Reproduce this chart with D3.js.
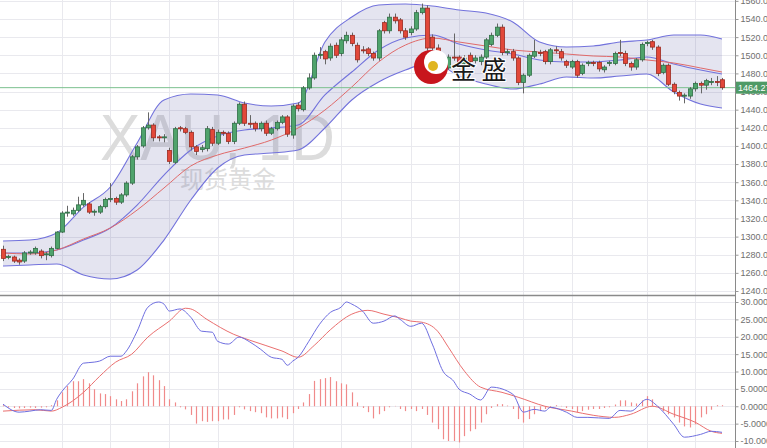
<!DOCTYPE html>
<html><head><meta charset="utf-8">
<script src="https://cdn.jsdelivr.net/npm/d3@7"></script>
<style>html,body{margin:0;padding:0;background:#fff;overflow:hidden}svg{display:block}</style>
</head><body>
<svg id="c" width="767" height="448"></svg>
<script>
// ---- Candle data (daily XAU) ----
const opens  = [1286,1277,1277.5,1274,1273,1282,1282,1284,1280,1279,1287,1305,1326,1325,1329,1335,1336,1327,1327,1333,1341,1342,1338,1346,1359,1388,1400,1420,1423,1410,1409,1395,1382,1420,1419,1415,1399,1396,1397,1418,1403,1415,1414,1405,1425,1446,1425,1425,1419,1425,1414,1419,1426,1432,1412,1445,1440,1464,1475,1500,1504,1497,1511,1502,1516,1522,1511,1506,1507,1502,1497,1536,1527,1542,1539,1527,1525,1529,1547,1552,1520,1508,1498,1486,1498,1498,1491,1500,1494,1493,1498,1512,1522,1531,1503,1504,1497,1470,1478,1499,1503,1504,1493,1506,1504,1493,1487,1493,1480,1491,1492,1492,1484,1491,1491,1503,1502,1491,1487,1495,1513,1515,1509,1481,1489,1468,1459,1455,1455,1463,1469,1467,1470,1471,1473];
const closes = [1276,1278,1273,1272,1282,1283,1287,1279,1281,1287,1305,1326,1327,1329,1335,1340,1327,1328,1333,1341,1342,1338,1346,1359,1388,1399,1420,1423,1409,1409,1410,1383,1419,1419,1415,1399,1394,1398,1419,1403,1415,1414,1405,1425,1446,1425,1424,1419,1425,1414,1419,1426,1432,1413,1444,1441,1464,1475,1500,1501,1496,1510,1500,1517,1522,1513,1495,1505,1502,1497,1527,1527,1542,1538,1527,1520,1529,1547,1552,1508,1508,1498,1486,1498,1497,1491,1497,1493,1497,1498,1517,1522,1531,1503,1504,1497,1470,1478,1500,1504,1502,1493,1506,1505,1497,1489,1493,1478,1489,1492,1491,1485,1487,1492,1502,1502,1491,1487,1495,1512,1514,1509,1480,1489,1468,1460,1455,1456,1463,1469,1467,1472,1471,1470,1464.27];
const highs  = [1290,1280,1279,1276,1284,1285,1289,1286,1283,1289,1306,1328,1334,1332,1344,1348,1338,1330,1335,1343,1359,1344,1348,1361,1390,1401,1422,1437,1425,1412,1413,1398,1421,1422,1421,1417,1401,1401,1422,1421,1418,1417,1416,1427,1448,1449,1434,1427,1427,1428,1421,1428,1434,1434,1446,1448,1466,1480,1503,1509,1506,1513,1514,1520,1526,1525,1514,1510,1509,1504,1529,1538,1546,1546,1541,1530,1532,1550,1557,1555,1523,1512,1500,1501,1524,1500,1500,1503,1500,1501,1519,1525,1535,1534,1507,1507,1499,1480,1502,1517,1506,1506,1508,1510,1507,1495,1495,1495,1491,1494,1494,1494,1489,1494,1504,1517,1505,1493,1497,1514,1516,1517,1511,1491,1491,1470,1461,1458,1465,1471,1471,1474,1475,1477,1475];
const lows   = [1273,1275,1271,1269,1271,1280,1280,1276,1274,1277,1286,1304,1322,1323,1327,1333,1325,1323,1325,1331,1338,1335,1336,1344,1357,1385,1398,1418,1405,1405,1404,1380,1380,1416,1413,1395,1390,1393,1394,1400,1401,1411,1402,1402,1423,1422,1420,1416,1416,1411,1412,1417,1424,1410,1408,1438,1438,1462,1473,1496,1490,1494,1497,1499,1513,1510,1492,1502,1499,1494,1494,1524,1524,1535,1524,1517,1522,1527,1545,1505,1504,1494,1483,1484,1494,1488,1488,1490,1491,1489,1496,1510,1520,1500,1500,1494,1467,1458,1476,1497,1499,1490,1490,1502,1494,1486,1485,1475,1478,1488,1488,1482,1481,1488,1489,1499,1488,1483,1484,1493,1510,1506,1477,1479,1466,1457,1450,1447,1452,1460,1458,1462,1467,1466,1462];
const lastPrice = 1464.27;

// ---- Bollinger band / moving average readings (candle index -> price) ----
const bandIdx   = [1,6,11,16,21,26,31,36,41,46,51,56,61,66,71,76,81,86,91,96,101,106,111,116,121,126,131,135];
const bandUpper = [1295.1,1296.2,1304.0,1332.6,1354.7,1403.2,1450.7,1457.3,1456.2,1447.3,1444.0,1447.3,1514.6,1542.2,1555.4,1556.5,1554.3,1549.9,1546.6,1536.7,1514.6,1509.1,1510.2,1514.6,1516.8,1522.3,1522.3,1517.9];
const bandMid   = [1281.9,1281.9,1285.2,1296.2,1309.5,1334.8,1367.9,1395.5,1410.9,1417.6,1419.8,1423.1,1456.2,1481.5,1505.8,1519.0,1522.3,1512.4,1505.8,1501.4,1494.8,1492.6,1492.6,1494.8,1498.1,1490.4,1483.7,1479.3];
const bandLower = [1267.6,1268.7,1269.8,1257.6,1253.2,1263.2,1296.2,1340.4,1375.7,1390.0,1392.2,1395.5,1419.8,1450.7,1470.5,1483.7,1492.6,1477.1,1468.3,1462.8,1468.3,1476.0,1474.9,1477.1,1479.3,1459.5,1446.2,1441.8];
const maRed     = [1281.9,1280.8,1285.2,1297.4,1309.5,1329.3,1353.6,1377.9,1390.0,1397.7,1406.5,1419.8,1439.6,1465.0,1492.6,1511.3,1519.0,1514.6,1510.2,1505.8,1503.6,1501.4,1499.2,1498.1,1494.8,1491.5,1486.0,1481.5];

// ---- MACD ----
const macdHist = [0.3,-0.4,-0.5,-0.6,-0.5,-0.4,-0.5,-0.4,-0.3,0.3,1.7,4.0,5.8,7.2,7.2,7.8,6.6,4.9,3.7,3.5,2.9,2.0,1.5,2.0,4.3,6.6,8.6,9.8,8.9,7.5,5.8,2.0,1.1,-0.3,-0.9,-2.5,-5.0,-4.3,-4.5,-4.3,-4.3,-3.8,-3.8,-2.5,-0.3,-0.9,-1.4,-1.7,-2.0,-3.2,-3.5,-3.5,-3.2,-3.7,-2.0,-0.8,1.1,3.5,7.3,7.8,8.1,8.4,7.2,6.6,6.3,4.0,1.1,-0.5,-1.7,-3.5,-2.3,-1.4,-0.3,0.1,-0.8,-1.4,-0.8,-1.4,-0.8,-2.5,-4.7,-6.6,-9.5,-10,-10,-10.4,-8.6,-7.2,-6.6,-4.7,-2.3,-0.5,0.6,0.6,0.2,-0.8,-3.7,-4.7,-3.7,-2.3,-1.4,-0.8,-0.3,0.3,0.1,-0.5,-0.8,-1.7,-1.4,-1.0,-0.8,-0.8,-0.5,-0.3,0.5,1.7,1.7,1.1,0.8,1.7,2.9,2.0,-0.3,-1.4,-2.3,-3.2,-4.7,-5.8,-6.1,-5.2,-3.2,-2.3,-1.0,0.3,0.3];
const difIdx = [1,4,6,8,10,11,12,14,16,18,19,21,23,24,26,28,30,31,32,34,36,38,40,41,43,45,47,49,51,53,54,55,56,58,60,62,64,65,66,68,70,72,74,75,77,79,81,83,85,86,88,90,92,96,98,100,102,103,106,108,110,114,116,118,121,123,126,128,131,133,135];
const difVal = [0.6,-1.7,-1.4,-1.0,-1.2,2,4.3,7.8,12.4,12.7,13,14.4,14.4,15.9,21.6,28.5,30,29.4,27.4,28,25.6,21.6,21.3,18.7,17.9,19.9,18.5,16.4,14.1,13.5,11.8,13,14.1,18.7,23.6,27,28.5,30,29.4,27.4,23.9,24.5,26,25,23,23.9,17.9,10.1,7.2,4.9,3.5,1.8,5.5,3.5,-1.7,-0.9,-1.4,-0.3,-1.7,-3.2,-3.2,-3.5,-1.2,-1.4,2,0,-5.2,-8.9,-8.1,-7.2,-7.5];
const deaIdx = [1,7,10,12,16,19,22,25,28,32,35,36,39,44,47,53,56,59,62,66,69,72,75,77,79,82,84,87,90,94,97,102,107,111,115,118,122,126,130,133,135];
const deaVal = [-1.4,-1.0,-1.4,-0.3,4,8.6,12.7,15,19.9,24.5,28.2,28,25,20.7,19,15.9,14.1,17.5,22,26.5,27.6,26.5,25.4,24.5,24.2,21.6,17,10.1,5.5,4,2.6,0,-1.4,-2.6,-3.2,-2.3,0,-2.3,-4.6,-7.2,-7.8];

// ---- Axes ----
const priceTicks = [1240,1260,1280,1300,1320,1340,1360,1380,1400,1420,1440,1460,1480,1500,1520,1540,1560];
const macdTicks  = [-10,-5,0,5,10,15,20,25,30];
const macdLabels = ["-10.000","-5.0000","0.0000","5.0000","10.0000","15.0000","20.0000","25.0000","30.0000"];
const vGridIdx   = [12,21,32,41,55,64,77,86,98,107,121,130];

const svg = d3.select("#c");
const W = 767, AX = 735, SEP = 295;
const n = opens.length;
const x = d3.scaleLinear().domain([1, n]).range([3, 722]);
const yP = d3.scaleLinear().domain([1240, 1540]).range([291, 19]);
const yM = d3.scaleLinear().domain([-10, 30]).range([441, 302]);

svg.append("rect").attr("width", W).attr("height", 448).attr("fill", "#fff");

// grids
const grid = svg.append("g").attr("stroke", "#e9e9ee").attr("stroke-width", 1);
priceTicks.forEach(t => { const yy = Math.round(yP(t)) + 0.5; if (yy < SEP) grid.append("line").attr("x1", 0).attr("x2", AX).attr("y1", yy).attr("y2", yy); });
macdTicks.forEach(t => { const yy = Math.round(yM(t)) + 0.5; grid.append("line").attr("x1", 0).attr("x2", AX).attr("y1", yy).attr("y2", yy); });
vGridIdx.forEach(i => { const xx = Math.round(x(i)) + 0.5; grid.append("line").attr("x1", xx).attr("x2", xx).attr("y1", 0).attr("y2", 448); });

// watermark
svg.append("text").attr("x", 100).attr("y", 160).attr("font-family", "Liberation Sans, Arial, sans-serif")
  .attr("font-size", 64).attr("fill", "#dcdcdc")
  .attr("textLength", 235).attr("lengthAdjust", "spacingAndGlyphs").text("XAU, 1D");
svg.append("text").attr("x", 180).attr("y", 188).attr("font-family", "Noto Sans CJK SC, sans-serif")
  .attr("font-size", 24).attr("fill", "#dcdcdc").text("现货黄金");

// bands
const bands = bandIdx.map((i, k) => ({ i, u: bandUpper[k], m: bandMid[k], l: bandLower[k], r: maRed[k] }));
const main = svg.append("g");
main.append("path").datum(bands).attr("fill", "#5a5aa0").attr("fill-opacity", 0.16)
  .attr("d", d3.area().x(d => x(d.i)).y0(d => yP(d.l)).y1(d => yP(d.u)).curve(d3.curveMonotoneX));
["u", "l", "m"].forEach(k => main.append("path").datum(bands).attr("fill", "none").attr("stroke", "#7272dc").attr("stroke-width", 1.1)
  .attr("d", d3.line().x(d => x(d.i)).y(d => yP(d[k])).curve(d3.curveMonotoneX)));
main.append("path").datum(bands).attr("fill", "none").attr("stroke", "#e06a6a").attr("stroke-width", 1)
  .attr("d", d3.line().x(d => x(d.i)).y(d => yP(d.r)).curve(d3.curveMonotoneX));

// last price line
main.append("line").attr("x1", 0).attr("x2", AX).attr("y1", yP(lastPrice)).attr("y2", yP(lastPrice))
  .attr("stroke", "#7cc08f").attr("stroke-width", 1);

// candles
const candles = d3.range(n).map(k => ({ i: k + 1, o: opens[k], c: closes[k], h: highs[k], l: lows[k] }));
const cg = main.append("g");
cg.selectAll("line.w").data(candles).join("line").attr("class", "w")
  .attr("x1", d => Math.round(x(d.i)) + 0.5).attr("x2", d => Math.round(x(d.i)) + 0.5)
  .attr("y1", d => yP(d.h)).attr("y2", d => yP(d.l)).attr("stroke", "#666").attr("stroke-width", 1);
cg.selectAll("rect.b").data(candles).join("rect").attr("class", "b")
  .attr("x", d => Math.round(x(d.i)) - 1.5).attr("width", 4)
  .attr("y", d => yP(Math.max(d.o, d.c)))
  .attr("height", d => Math.max(1, Math.abs(yP(d.o) - yP(d.c))))
  .attr("fill", d => d.c >= d.o ? "#4fa36c" : "#e2483a")
  .attr("stroke", d => d.c >= d.o ? "#2f6e45" : "#9c2a20").attr("stroke-width", 0.8);

// logo
const logo = svg.append("g");
logo.append("circle").attr("cx", 431).attr("cy", 67).attr("r", 17).attr("fill", "#c8161d");
logo.append("circle").attr("cx", 436).attr("cy", 62).attr("r", 12).attr("fill", "#fff");
logo.append("circle").attr("cx", 433).attr("cy", 66).attr("r", 5).attr("fill", "#e0b520");
logo.append("text").attr("x", 451).attr("y", 79).attr("font-family", "Noto Sans CJK SC, sans-serif")
  .attr("font-size", 25).attr("fill", "#1a1a1a").attr("stroke", "#fff").attr("stroke-width", 2)
  .attr("paint-order", "stroke").text("金 盛");

// MACD
const mg = svg.append("g");
mg.selectAll("line.h").data(macdHist).join("line").attr("class", "h")
  .attr("x1", (d, k) => Math.round(x(k + 1)) + 0.5).attr("x2", (d, k) => Math.round(x(k + 1)) + 0.5)
  .attr("y1", yM(0)).attr("y2", d => yM(d)).attr("stroke", "#f08a8a").attr("stroke-width", 1.2);
const dif = difIdx.map((i, k) => ({ i, v: difVal[k] }));
const dea = deaIdx.map((i, k) => ({ i, v: deaVal[k] }));
mg.append("path").datum(dea).attr("fill", "none").attr("stroke", "#ea6f6f").attr("stroke-width", 1)
  .attr("d", d3.line().x(d => x(d.i)).y(d => yM(d.v)).curve(d3.curveMonotoneX));
mg.append("path").datum(dif).attr("fill", "none").attr("stroke", "#6e6ee0").attr("stroke-width", 1)
  .attr("d", d3.line().x(d => x(d.i)).y(d => yM(d.v)).curve(d3.curveMonotoneX));

// separator + right axis
svg.append("line").attr("x1", 0).attr("x2", AX).attr("y1", SEP + 0.5).attr("y2", SEP + 0.5).attr("stroke", "#8a8a8a").attr("stroke-width", 1.5);
svg.append("line").attr("x1", AX + 0.5).attr("x2", AX + 0.5).attr("y1", 0).attr("y2", 448).attr("stroke", "#8a8a8a").attr("stroke-width", 1);

const pAxis = d3.axisRight(yP).tickValues(priceTicks).tickFormat(d3.format(".2f")).tickSize(3).tickPadding(2);
const pg = svg.append("g").attr("transform", `translate(${AX + 0.5},0)`).call(pAxis);
const mAxis = d3.axisRight(yM).tickValues(macdTicks).tickFormat((d, k) => macdLabels[k]).tickSize(3).tickPadding(2);
const mgx = svg.append("g").attr("transform", `translate(${AX + 0.5},0)`).call(mAxis);
[pg, mgx].forEach(g => {
  g.select(".domain").remove();
  g.selectAll("line").attr("stroke", "#999");
  g.selectAll("text").attr("font-family", "Liberation Sans, Arial, sans-serif").attr("font-size", 9).attr("fill", "#6f6f6f");
});

// last price tag
const ly = yP(lastPrice);
svg.append("rect").attr("x", AX + 1).attr("y", ly - 6).attr("width", W - AX - 1).attr("height", 12).attr("fill", "#4f9a66");
svg.append("text").attr("x", AX + 3).attr("y", ly + 3.5).attr("font-family", "Liberation Sans, Arial, sans-serif")
  .attr("font-size", 9).attr("fill", "#fff").text(d3.format(".2f")(lastPrice));
</script>
</body></html>
